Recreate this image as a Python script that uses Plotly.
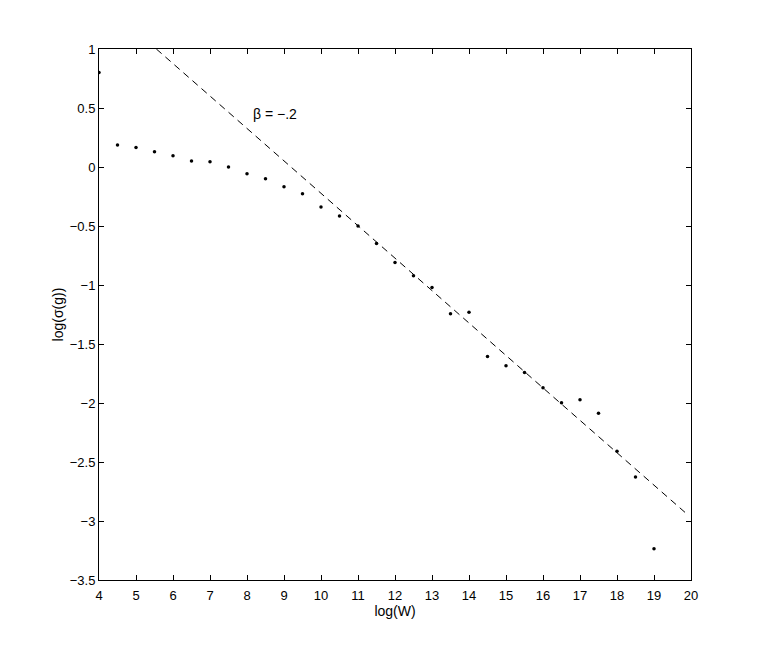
"""Scaling of sigma(g) with W on log-log axes, with the fitted slope line."""

import plotly.graph_objects as go

# measured points: log(W) vs log(sigma(g))
log_w = [4.0, 4.5, 5.0, 5.5, 6.0, 6.5, 7.0, 7.5, 8.0, 8.5, 9.0, 9.5, 10.0, 10.5,
         11.0, 11.5, 12.0, 12.5, 13.0, 13.5, 14.0, 14.5, 15.0, 15.5, 16.0, 16.5,
         17.0, 17.5, 18.0, 18.5, 19.0]
log_sigma = [0.80, 0.186, 0.166, 0.13, 0.096, 0.05, 0.045, 0.0, -0.057, -0.10,
             -0.167, -0.226, -0.339, -0.415, -0.50, -0.649, -0.809, -0.921,
             -1.022, -1.244, -1.230, -1.606, -1.684, -1.741, -1.870, -1.998,
             -1.973, -2.086, -2.408, -2.627, -3.236]

# fitted power-law line (end points)
fit_x = [5.55, 19.85]
fit_y = [1.0, -2.93]

x_ticks = list(range(4, 21))
y_ticks = [1, 0.5, 0, -0.5, -1, -1.5, -2, -2.5, -3, -3.5]
y_tick_text = ["1", "0.5", "0", "−0.5", "−1", "−1.5", "−2", "−2.5", "−3", "−3.5"]

FONT = "Liberation Sans, Arial, Helvetica, sans-serif"

fig = go.Figure()
fig.add_trace(go.Scatter(
    x=fit_x, y=fit_y, mode="lines",
    line={"color": "black", "width": 1, "dash": "7px,5px"},
    hoverinfo="skip",
))
fig.add_trace(go.Scatter(
    x=log_w, y=log_sigma, mode="markers",
    marker={"color": "black", "size": 3.5},
))
fig.add_annotation(
    x=8.12, y=0.45, xanchor="left", yanchor="middle",
    text="β = −.2", showarrow=False,
    font={"family": FONT, "size": 14, "color": "black"},
)

axis_common = {
    "showgrid": False,
    "zeroline": False,
    "showline": True,
    "linecolor": "black",
    "linewidth": 1,
    "mirror": "allticks",
    "ticks": "inside",
    "ticklen": 5,
    "tickcolor": "black",
    "tickfont": {"family": FONT, "size": 13, "color": "black"},
}

fig.update_xaxes(
    range=[4, 20], tickvals=x_ticks, ticktext=[str(v) for v in x_ticks],
    ticklabelstandoff=3,
    title={"text": "log(W)", "font": {"family": FONT, "size": 14, "color": "black"},
           "standoff": 4},
    **axis_common,
)
fig.update_yaxes(
    range=[-3.5, 1], tickvals=y_ticks, ticktext=y_tick_text,
    title={"text": "log(σ(g))", "font": {"family": FONT, "size": 14, "color": "black"},
           "standoff": 2},
    **axis_common,
)
# page body keeps its default 8px margin, so the figure is 8px smaller each way
fig.update_layout(
    width=755, height=649,
    margin={"l": 91, "r": 72, "t": 41, "b": 77},
    plot_bgcolor="white", paper_bgcolor="white",
    showlegend=False,
)

fig.write_html("out.html")
